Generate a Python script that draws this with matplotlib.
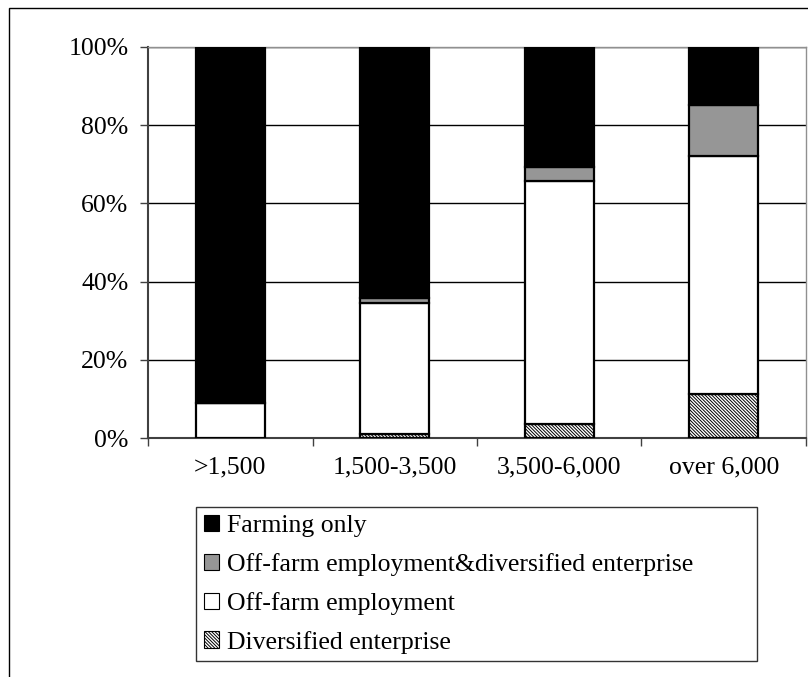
import matplotlib
matplotlib.use("Agg")
import matplotlib.pyplot as plt
from matplotlib.patches import Rectangle, Patch
import numpy as np

plt.rcParams['font.family'] = ['Liberation Serif', 'DejaVu Serif']
plt.rcParams['hatch.linewidth'] = 0.7

categories = [">1,500", "1,500-3,500", "3,500-6,000", "over 6,000"]
diversified = [0.0, 1.0, 3.6, 11.3]
off_farm = [9.0, 33.5, 62.1, 60.8]
off_farm_div = [0.0, 1.3, 3.6, 13.1]
farming_only = [91.0, 64.2, 30.7, 14.8]

HATCH = '\\' * 10

fig = plt.figure(figsize=(8.08, 6.77), dpi=100)
ax = fig.add_axes([0.1832, 0.353, 0.8143, 0.5776])

# outer frame (cropped on the right and bottom)
fig.add_artist(Rectangle((9/808, -0.05), 1.2, 1 - 8/677 + 0.05, transform=fig.transFigure,
                         fill=False, edgecolor='black', linewidth=1.0, zorder=0))

x = np.arange(len(categories))
w = 0.42
ec = 'black'
lw = 1.6
ax.bar(x, diversified, w, color='white', edgecolor=ec, linewidth=lw, hatch=HATCH, zorder=3)
bottom = np.array(diversified)
ax.bar(x, off_farm, w, bottom=bottom, color='white', edgecolor=ec, linewidth=lw, zorder=3)
bottom = bottom + np.array(off_farm)
ax.bar(x, off_farm_div, w, bottom=bottom, color='#969696', edgecolor=ec, linewidth=lw, zorder=3)
bottom = bottom + np.array(off_farm_div)
ax.bar(x, farming_only, w, bottom=bottom, color='black', edgecolor=ec, linewidth=lw, zorder=3)

FS = 18.5
ax.set_xlim(-0.5, len(categories) - 0.5)
ax.set_ylim(0, 100)
ax.set_yticks([0, 20, 40, 60, 80, 100])
ax.set_yticklabels([f"{v}%" for v in [0, 20, 40, 60, 80, 100]], fontsize=FS)
ax.yaxis.grid(True, color='black', linewidth=1.0, zorder=0)
ax.set_axisbelow(True)

ax.set_xticks(x)
ax.set_xticklabels(categories, fontsize=FS)
ax.set_xticks(np.arange(-0.5, len(categories), 1.0), minor=True)
ax.tick_params(axis='x', which='major', length=0, pad=13)
ax.tick_params(axis='x', which='minor', length=6, width=1.0, color='#404040', direction='out')
ax.tick_params(axis='y', length=6, width=1.0, color='#404040', direction='out', pad=8)

for s in ['left', 'bottom']:
    ax.spines[s].set_color('#404040')
    ax.spines[s].set_linewidth(1.5)
for s in ['top', 'right']:
    ax.spines[s].set_color('#909090')
    ax.spines[s].set_linewidth(1.0)

handles = [
    Patch(facecolor='black', edgecolor='black', linewidth=0.8),
    Patch(facecolor='#969696', edgecolor='black', linewidth=0.8),
    Patch(facecolor='white', edgecolor='black', linewidth=0.8),
    Patch(facecolor='white', edgecolor='black', linewidth=0.8, hatch=HATCH),
]
labels = ["Farming only", "Off-farm employment&diversified enterprise",
          "Off-farm employment", "Diversified enterprise"]
leg = fig.legend(handles, labels, loc='upper left',
                 bbox_to_anchor=(196/808, 1 - 507/677, (757 - 196)/808, 0.0),
                 mode='expand', borderaxespad=0, fontsize=FS, frameon=True, fancybox=False,
                 handlelength=0.6, handleheight=0.6, handletextpad=0.3,
                 labelspacing=0.62, borderpad=0.3)
leg.get_frame().set_edgecolor('black')
leg.get_frame().set_linewidth(1.0)

fig.savefig("out.png", dpi=100)
